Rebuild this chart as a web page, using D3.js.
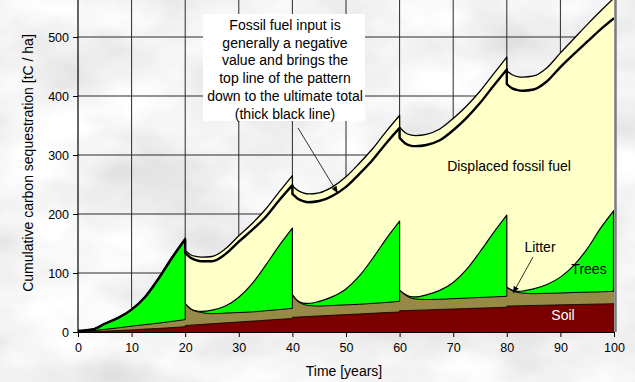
<!DOCTYPE html>
<html>
<head>
<meta charset="utf-8">
<script src="https://cdn.jsdelivr.net/npm/d3@7"></script>
<style>
  body { margin: 0; }
  text { font-family: "Liberation Sans", Arial, sans-serif; }
</style>
</head>
<body>
<div id="chart"></div>
<script>
var width = 635,
    height = 382;

// years per rotation; the harvest year is listed twice (before / after cut)
var years = [0,1,2,3,5,7.5,10,12.5,15,17.5,20,
  20,21,22,23,25,27.5,30,32.5,35,37.5,40,
  40,41,42,43,45,47.5,50,52.5,55,57.5,60,
  60,61,62,63,65,67.5,70,72.5,75,77.5,80,
  80,81,82,83,85,87.5,90,92.5,95,97.5,100];

// cumulative tops of each layer [tC / ha]
var soilTop = [0,0.3,0.6,1,1.5,2.5,3.5,5,6,7.5,9,
  11,11.6,12.2,12.8,14,15.5,17,18.5,20,21.5,23,
  25,25.4,25.9,26.3,27.3,28.4,29.5,30.6,31.8,32.9,34,
  36,36.3,36.6,36.9,37.5,38.3,39,39.8,40.5,41.3,42,
  44,44.2,44.4,44.6,45,45.5,46,46.5,47,47.5,48];
var litterTop = [0.5,1,1.5,2.5,4.5,7,10,12.5,15,18,21,
  48,39,35,33,31,32,33,34,36,38,40,
  63,52,47,45,44,45,46,47,48.5,50,52,
  71,63,58,56,55,55.5,56.5,57.5,58.5,59.5,60.5,
  76,70,67,66,65,65.5,66,67,67.5,68,69];
var treesTop = [2,2.5,3.5,5,14,24,38,59,90,125,157,
  48,39.5,36,35,37,44,59,82,113,146,176,
  63,53,49,48.5,52,60,73,95,125,158,188,
  71,64,60,59.5,63,70.5,84,106,136,168,198,
  76,71,69,69.5,73,80.5,93,113,141,176,206];
var fossilTop = [2,2.5,3.5,5.5,14.5,25,39,60.5,91.5,127,159,
  138,131,128,127,128,141,163,184,208,237,265,
  248,240,236,234,236,246,263,286,311,340,367,
  347,338,334,333,335,344,362,383,408,437,466,
  443,436,433,432,434,448,473,497,521,544,566];
var netTotal = [2,2.5,3.5,5,14,24,38,59,90,125,157,
  134,126,122,120,120,132,153,173,195,223,249,
  234,226,222,220,222,231,246,268,292,320,346,
  329,320,316,315,317,325,342,363,388,417,445,
  420,413,410,409,411,425,449,471,492,513,532];

var xTicks = d3.range(0, 101, 10);
var yTicks = [0, 100, 200, 300, 400, 500];

var note = ["Fossil fuel input is", "generally a negative", "value and brings the",
  "top line of the pattern", "down to the ultimate total", "(thick black line)"];

var x = d3.scaleLinear().domain([0, 100]).range([78, 614]);
var y = d3.scaleLinear().domain([0, 600]).range([332, -22]);

var svg = d3.select("#chart").append("svg")
    .attr("width", width)
    .attr("height", height);

var defs = svg.append("defs");
var filt = defs.append("filter").attr("id", "marble")
    .attr("x", 0).attr("y", 0).attr("width", "100%").attr("height", "100%");
filt.append("feTurbulence")
    .attr("type", "fractalNoise")
    .attr("baseFrequency", "0.008 0.014")
    .attr("numOctaves", 4)
    .attr("seed", 7);
filt.append("feColorMatrix")
    .attr("type", "matrix")
    .attr("values", "0.5 0 0 0 0.64  0.5 0 0 0 0.64  0.5 0 0 0 0.64  0 0 0 0 1");

defs.append("clipPath").attr("id", "plotclip")
  .append("rect").attr("x", x(0)).attr("y", 0)
    .attr("width", x(100) - x(0)).attr("height", y(0));

defs.append("marker").attr("id", "arrow")
    .attr("viewBox", "0 0 10 10").attr("refX", 9).attr("refY", 5)
    .attr("markerWidth", 7).attr("markerHeight", 7)
    .attr("markerUnits", "userSpaceOnUse")
    .attr("orient", "auto")
  .append("path").attr("d", "M0,1L10,5L0,9Z").attr("fill", "#000");

svg.append("rect").attr("width", width).attr("height", height)
    .attr("filter", "url(#marble)");

// grid
var g = svg.append("g");
g.selectAll(".vgrid").data(xTicks.slice(1, -1)).enter().append("line")
    .attr("x1", function(d) { return x(d); }).attr("x2", function(d) { return x(d); })
    .attr("y1", 0).attr("y2", y(0))
    .attr("stroke", "#2a2a2a").attr("stroke-width", 1);
g.selectAll(".hgrid").data(yTicks.slice(1)).enter().append("line")
    .attr("x1", x(0)).attr("x2", x(100))
    .attr("y1", function(d) { return y(d); }).attr("y2", function(d) { return y(d); })
    .attr("stroke", "#2a2a2a").attr("stroke-width", 1);

// rotations: groups of 11 indices
var segs = d3.range(5).map(function(k) { return d3.range(11).map(function(j) { return k * 11 + j; }); });

function joinedPath(vals) {
    var line = d3.line()
        .x(function(i) { return x(years[i]); })
        .y(function(i) { return y(vals[i]); })
        .curve(d3.curveMonotoneX);
    return segs.map(function(s, k) {
        var p = line(s);
        return k ? p.replace(/^M/, "L") : p;
    }).join("");
}
function areaPath(vals) {
    return joinedPath(vals) + "L" + x(100) + "," + y(0) + "L" + x(0) + "," + y(0) + "Z";
}

var plot = svg.append("g").attr("clip-path", "url(#plotclip)");

var layers = [
    { vals: fossilTop, fill: "#ffffc8" },
    { vals: treesTop, fill: "#00ff00" },
    { vals: litterTop, fill: "#978a46" },
    { vals: soilTop, fill: "#7a0000" }
];
plot.selectAll(".layer").data(layers).enter().append("path")
    .attr("d", function(d) { return areaPath(d.vals); })
    .attr("fill", function(d) { return d.fill; });

var lines = [
    { vals: soilTop, w: 0.8 },
    { vals: litterTop, w: 1 },
    { vals: treesTop, w: 1.2 },
    { vals: fossilTop, w: 1.3 },
    { vals: netTotal, w: 2.4 }
];
plot.selectAll(".bound").data(lines).enter().append("path")
    .attr("d", function(d) { return joinedPath(d.vals); })
    .attr("fill", "none")
    .attr("stroke", "#000")
    .attr("stroke-width", function(d) { return d.w; })
    .attr("stroke-linejoin", "round");

// right edge of the trees at year 100
var last = years.length - 1;
plot.append("line")
    .attr("x1", x(100) - 0.5).attr("x2", x(100) - 0.5)
    .attr("y1", y(litterTop[last])).attr("y2", y(treesTop[last]))
    .attr("stroke", "#000").attr("stroke-width", 1.2);

// gray frame edge on the right
svg.append("line")
    .attr("x1", x(100) + 1.5).attr("x2", x(100) + 1.5)
    .attr("y1", 0).attr("y2", y(0))
    .attr("stroke", "#7c7c7c").attr("stroke-width", 2.5);

// axes
var xAxis = svg.append("g")
    .attr("transform", "translate(0," + y(0) + ")")
    .call(d3.axisBottom(x).tickValues(xTicks).tickSize(5).tickSizeOuter(0).tickPadding(6));
var yAxis = svg.append("g")
    .attr("transform", "translate(" + x(0) + ",0)")
    .call(d3.axisLeft(y).tickValues(yTicks).tickSize(5).tickSizeOuter(0).tickPadding(4));
[xAxis, yAxis].forEach(function(a) {
    a.select(".domain").attr("stroke", "#000").attr("stroke-width", 1.2);
    a.selectAll(".tick line").attr("stroke", "#000");
    a.selectAll("text").attr("font-family", "Liberation Sans, Arial, sans-serif")
        .attr("font-size", 12.5).attr("fill", "#000");
});
yAxis.select(".domain").attr("d", "M0,0V" + y(0));

svg.append("text")
    .attr("x", (x(0) + x(100)) / 2 - 2).attr("y", 376)
    .attr("text-anchor", "middle").attr("font-size", 14)
    .text("Time [years]");
svg.append("text")
    .attr("transform", "translate(33,163) rotate(-90)")
    .attr("text-anchor", "middle").attr("font-size", 14)
    .text("Cumulative carbon sequestration [tC / ha]");

// annotation box
svg.append("rect")
    .attr("x", 203).attr("y", 14).attr("width", 162).attr("height", 107)
    .attr("fill", "#fff");
svg.append("g").selectAll("text").data(note).enter().append("text")
    .attr("x", 285).attr("y", function(d, i) { return 30 + i * 17.7; })
    .attr("text-anchor", "middle").attr("font-size", 14)
    .text(function(d) { return d; });
svg.append("line")
    .attr("x1", 298).attr("y1", 128)
    .attr("x2", x(48.4)).attr("y2", y(netTotal[27]) - 3)
    .attr("stroke", "#000").attr("stroke-width", 0.8)
    .attr("marker-end", "url(#arrow)");

// layer labels
svg.append("text").attr("x", 509).attr("y", 171)
    .attr("text-anchor", "middle").attr("font-size", 14).text("Displaced fossil fuel");
svg.append("text").attr("x", 540).attr("y", 252)
    .attr("text-anchor", "middle").attr("font-size", 14).text("Litter");
svg.append("line")
    .attr("x1", 533).attr("y1", 257)
    .attr("x2", x(81.2)).attr("y2", y(litterTop[45]) + 2)
    .attr("stroke", "#000").attr("stroke-width", 0.8)
    .attr("marker-end", "url(#arrow)");
svg.append("text").attr("x", 589).attr("y", 274)
    .attr("text-anchor", "middle").attr("font-size", 14).text("Trees");
svg.append("text").attr("x", 563).attr("y", 320)
    .attr("text-anchor", "middle").attr("font-size", 14)
    .attr("fill", "#fff").text("Soil");
</script>
</body>
</html>
